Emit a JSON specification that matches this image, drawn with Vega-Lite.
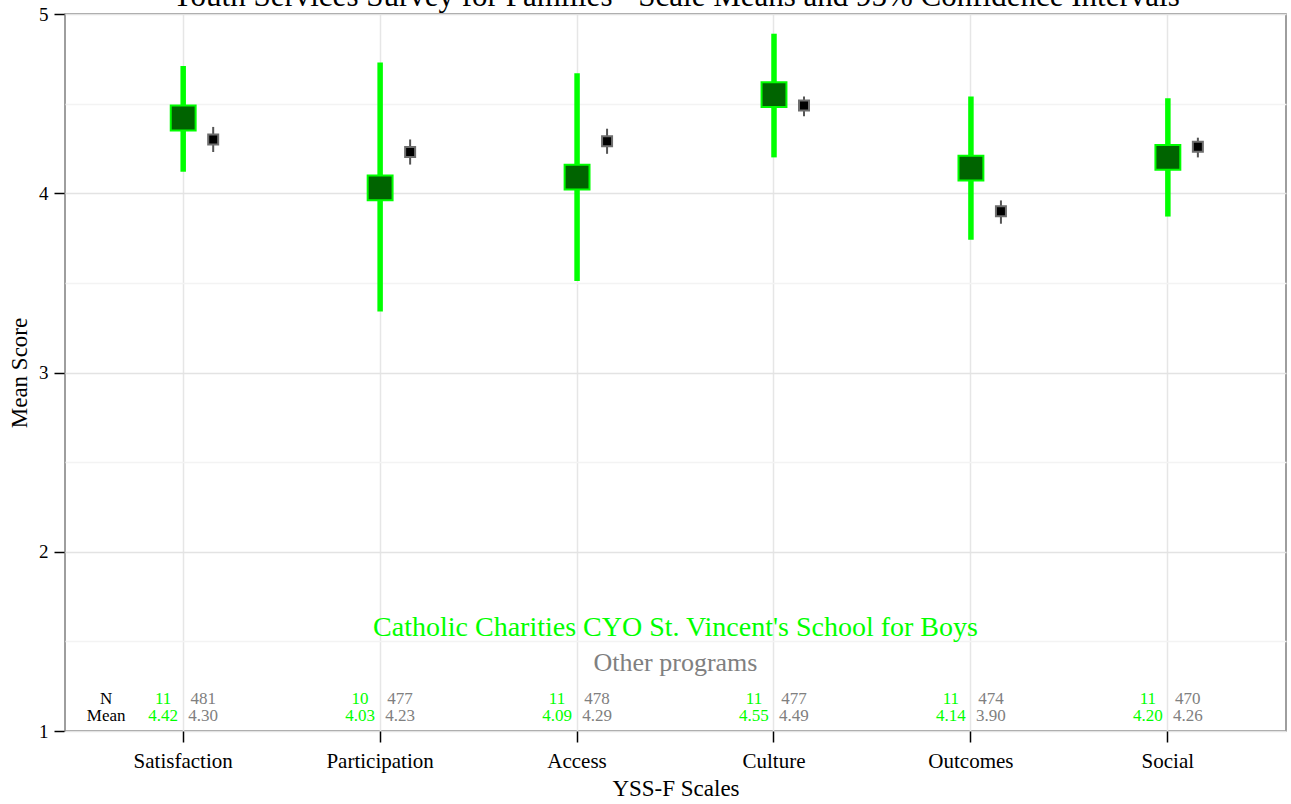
{
  "$schema": "https://vega.github.io/schema/vega-lite/v6.json",
  "autosize": {"type": "none"},
  "padding": {"left": 65, "top": 14, "right": 5, "bottom": 73},
  "width": 1221,
  "height": 717,
  "background": "white",
  "title": {
    "text": "Youth Services Survey for Families - Scale Means and 95% Confidence Intervals",
    "font": "Liberation Serif",
    "fontSize": 31,
    "fontWeight": "normal",
    "color": "black",
    "anchor": "middle",
    "baseline": "alphabetic",
    "offset": 0,
    "dy": 32
  },
  "config": {
    "font": "Liberation Serif",
    "view": {"stroke": "#7f7f7f", "strokeWidth": 1.5},
    "axis": {"labelFont": "Liberation Serif", "titleFont": "Liberation Serif", "titleFontWeight": "normal"}
  },
  "data": {
    "values": [
      {"scale": "Satisfaction", "group": "prog", "n": 11, "mean": 4.42, "lo": 4.12, "hi": 4.71},
      {"scale": "Satisfaction", "group": "other", "n": 481, "mean": 4.30, "lo": 4.23, "hi": 4.37},
      {"scale": "Participation", "group": "prog", "n": 10, "mean": 4.03, "lo": 3.34, "hi": 4.73},
      {"scale": "Participation", "group": "other", "n": 477, "mean": 4.23, "lo": 4.16, "hi": 4.30},
      {"scale": "Access", "group": "prog", "n": 11, "mean": 4.09, "lo": 3.51, "hi": 4.67},
      {"scale": "Access", "group": "other", "n": 478, "mean": 4.29, "lo": 4.22, "hi": 4.36},
      {"scale": "Culture", "group": "prog", "n": 11, "mean": 4.55, "lo": 4.20, "hi": 4.89},
      {"scale": "Culture", "group": "other", "n": 477, "mean": 4.49, "lo": 4.43, "hi": 4.54},
      {"scale": "Outcomes", "group": "prog", "n": 11, "mean": 4.14, "lo": 3.74, "hi": 4.54},
      {"scale": "Outcomes", "group": "other", "n": 474, "mean": 3.90, "lo": 3.83, "hi": 3.96},
      {"scale": "Social", "group": "prog", "n": 11, "mean": 4.20, "lo": 3.87, "hi": 4.53},
      {"scale": "Social", "group": "other", "n": 470, "mean": 4.26, "lo": 4.20, "hi": 4.31}
    ]
  },
  "encoding": {
    "x": {
      "field": "scale",
      "type": "nominal",
      "sort": ["Satisfaction", "Participation", "Access", "Culture", "Outcomes", "Social"],
      "scale": {"type": "band", "paddingInner": 0, "paddingOuter": 0.1},
      "axis": {
        "title": "YSS-F Scales",
        "titleFontSize": 23,
        "titleColor": "black",
        "titlePadding": 6,
        "labelFontSize": 21,
        "labelColor": "black",
        "labelAngle": 0,
        "labelPadding": 8,
        "bandPosition": 0.5,
        "domain": false,
        "ticks": true,
        "tickSize": 11,
        "tickColor": "black",
        "tickWidth": 1.5,
        "grid": true,
        "gridColor": "#e6e6e6",
        "gridWidth": 1.5
      }
    }
  },
  "layer": [
    {
      "transform": [{"filter": "datum.group === 'prog'"}],
      "mark": {"type": "rule", "color": "#00ff00", "strokeWidth": 5.5},
      "encoding": {
        "xOffset": {"field": "group", "type": "nominal", "scale": {"type": "point", "domain": ["prog", "other"], "range": [98.5, 128.5], "padding": 0}},
        "y": {
          "field": "lo",
          "type": "quantitative",
          "scale": {"domain": [1, 5], "nice": false, "zero": false},
          "axis": {
            "values": [1, 1.5, 2, 2.5, 3, 3.5, 4, 4.5, 5],
            "labelExpr": "datum.value % 1 === 0 ? format(datum.value, 'd') : ''",
            "title": "Mean Score",
            "titleFontSize": 23,
            "titleColor": "black",
            "titlePadding": 7,
            "labelFontSize": 19,
            "labelColor": "black",
            "labelPadding": 6,
            "domain": false,
            "ticks": true,
            "tickSize": 10,
            "offset": 1,
            "tickColor": "black",
            "tickOpacity": {"condition": {"test": "datum.value % 1 !== 0", "value": 0}, "value": 1},
            "tickWidth": 1.5,
            "grid": true,
            "gridColor": {"condition": {"test": "datum.value % 1 !== 0", "value": "#f3f3f3"}, "value": "#e3e3e3"},
            "gridWidth": 1.5
          }
        },
        "y2": {"field": "hi"}
      }
    },
    {
      "transform": [{"filter": "datum.group === 'prog'"}],
      "mark": {"type": "square", "filled": true, "fill": "#006400", "stroke": "#00ff00", "strokeWidth": 2, "size": 620, "opacity": 1},
      "encoding": {
        "xOffset": {"field": "group", "type": "nominal", "scale": {"type": "point", "domain": ["prog", "other"], "range": [98.5, 128.5], "padding": 0}},
        "y": {"field": "mean", "type": "quantitative"}
      }
    },
    {
      "transform": [{"filter": "datum.group === 'other'"}],
      "mark": {"type": "rule", "color": "#555555", "strokeWidth": 2},
      "encoding": {
        "xOffset": {"field": "group", "type": "nominal", "scale": {"type": "point", "domain": ["prog", "other"], "range": [98.5, 128.5], "padding": 0}},
        "y": {"field": "lo", "type": "quantitative"},
        "y2": {"field": "hi"}
      }
    },
    {
      "transform": [{"filter": "datum.group === 'other'"}],
      "mark": {"type": "square", "filled": true, "fill": "black", "stroke": "#6e6e6e", "strokeWidth": 2, "size": 100, "opacity": 1},
      "encoding": {
        "xOffset": {"field": "group", "type": "nominal", "scale": {"type": "point", "domain": ["prog", "other"], "range": [98.5, 128.5], "padding": 0}},
        "y": {"field": "mean", "type": "quantitative"}
      }
    },
    {
      "transform": [{"filter": "datum.group === 'prog'"}],
      "mark": {"type": "text", "color": "#00ff00", "fontSize": 17, "align": "center", "baseline": "middle", "dx": -20},
      "encoding": {"y": {"datum": 1.18}, "text": {"field": "n", "type": "quantitative"}}
    },
    {
      "transform": [{"filter": "datum.group === 'prog'"}],
      "mark": {"type": "text", "color": "#00ff00", "fontSize": 17, "align": "center", "baseline": "middle", "dx": -20},
      "encoding": {"y": {"datum": 1.085}, "text": {"field": "mean", "type": "quantitative", "format": ".2f"}}
    },
    {
      "transform": [{"filter": "datum.group === 'other'"}],
      "mark": {"type": "text", "color": "#808080", "fontSize": 17, "align": "center", "baseline": "middle", "dx": 20},
      "encoding": {"y": {"datum": 1.18}, "text": {"field": "n", "type": "quantitative"}}
    },
    {
      "transform": [{"filter": "datum.group === 'other'"}],
      "mark": {"type": "text", "color": "#808080", "fontSize": 17, "align": "center", "baseline": "middle", "dx": 20},
      "encoding": {"y": {"datum": 1.085}, "text": {"field": "mean", "type": "quantitative", "format": ".2f"}}
    },
    {
      "transform": [{"filter": "datum.group === 'prog' && datum.scale === 'Satisfaction'"}],
      "mark": {"type": "text", "color": "black", "fontSize": 17, "align": "center", "baseline": "middle", "dx": -77},
      "encoding": {"y": {"datum": 1.18}, "text": {"value": "N"}}
    },
    {
      "transform": [{"filter": "datum.group === 'prog' && datum.scale === 'Satisfaction'"}],
      "mark": {"type": "text", "color": "black", "fontSize": 17, "align": "center", "baseline": "middle", "dx": -77},
      "encoding": {"y": {"datum": 1.085}, "text": {"value": "Mean"}}
    },
    {
      "data": {"values": [{"label": "Catholic Charities CYO St. Vincent's School for Boys"}]},
      "mark": {"type": "text", "color": "#00ff00", "fontSize": 28, "align": "center", "baseline": "middle"},
      "encoding": {"x": null, "y": {"datum": 1.575}, "text": {"field": "label"}}
    },
    {
      "data": {"values": [{"label": "Other programs"}]},
      "mark": {"type": "text", "color": "#808080", "fontSize": 26, "align": "center", "baseline": "middle"},
      "encoding": {"x": null, "y": {"datum": 1.38}, "text": {"field": "label"}}
    }
  ]
}
